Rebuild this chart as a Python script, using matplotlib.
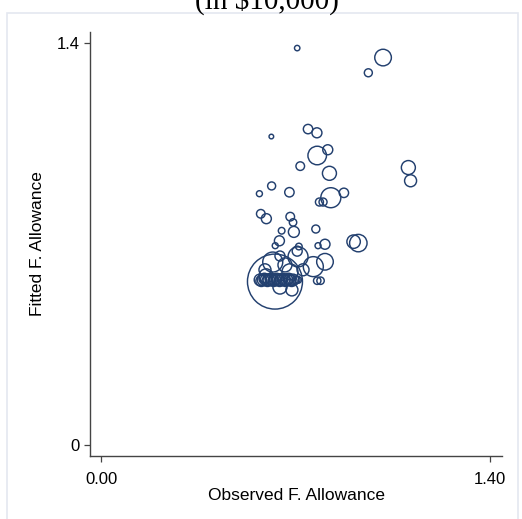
import matplotlib
matplotlib.use("Agg")
import matplotlib.pyplot as plt
import matplotlib.patches as mpatches
import numpy as np

# ---- data (observed, fitted, weight) ----
observed = [0.706, 1.015, 0.962, 0.745, 0.777, 0.613, 0.778, 0.816, 0.717, 0.822,
            1.106, 1.114, 0.614, 0.570, 0.678, 0.827, 0.874, 0.786, 0.799, 0.575,
            0.595, 0.681, 0.691, 0.650, 0.694, 0.773, 0.642, 0.627, 0.806, 0.781,
            0.712, 0.706, 0.909, 0.926, 0.644, 0.618, 0.709, 0.764, 0.806, 0.662,
            0.590, 0.727, 0.680, 0.626, 0.778, 0.790,
            0.572, 0.583, 0.594, 0.604, 0.615, 0.626, 0.637, 0.648, 0.659, 0.669,
            0.680, 0.691, 0.577, 0.588, 0.599, 0.610, 0.621, 0.632, 0.643, 0.653,
            0.664, 0.675, 0.686, 0.702, 0.709, 0.644, 0.594, 0.687]
fitted = [1.382, 1.349, 1.296, 1.100, 1.087, 1.074, 1.008, 1.028, 0.971, 0.946,
          0.966, 0.920, 0.902, 0.875, 0.880, 0.861, 0.878, 0.846, 0.846, 0.805,
          0.788, 0.795, 0.775, 0.746, 0.742, 0.752, 0.711, 0.694, 0.699, 0.694,
          0.691, 0.675, 0.708, 0.703, 0.658, 0.637, 0.655, 0.621, 0.638, 0.627,
          0.610, 0.610, 0.603, 0.569, 0.572, 0.572,
          0.575, 0.575, 0.575, 0.575, 0.575, 0.575, 0.575, 0.575, 0.575, 0.575,
          0.575, 0.575, 0.571, 0.579, 0.571, 0.579, 0.571, 0.579, 0.571, 0.579,
          0.571, 0.579, 0.571, 0.575, 0.575, 0.550, 0.589, 0.540]
weight = [7.3, 69, 16, 22, 25, 5.3, 86, 25, 18.5, 49,
          49, 36, 16, 9, 22, 100, 22, 16, 16, 18.5,
          25, 18.5, 13.7, 11, 30, 16, 25, 9, 25, 9,
          11, 25, 45, 76, 25, 100, 100, 100, 69, 49,
          36, 36, 64, 756, 13.7, 13.7,
          33, 33, 33, 33, 33, 33, 33, 33, 33, 33,
          33, 33, 30, 30, 30, 30, 30, 30, 30, 30,
          30, 30, 30, 16, 12, 49, 49, 36]

xticks = [0.0, 1.4]
xticklabels = ["0.00", "1.40"]
yticks = [0.0, 1.4]
yticklabels = ["0", "1.4"]

title = "(in $10,000)"
xlabel = "Observed F. Allowance"
ylabel = "Fitted F. Allowance"

W, H = 522, 519
fig = plt.figure(figsize=(W / 100, H / 100), dpi=100)
fig.patch.set_facecolor("white")

ax = fig.add_axes([90 / W, 1 - 456 / H, 412 / W, 424 / H])

sizes = [w * 2.0736 for w in weight]
ax.scatter(observed, fitted, s=sizes, facecolors="none",
           edgecolors="#23406f", linewidths=1.05, zorder=3)

ax.set_xlim(-0.0396, 1.443)
ax.set_ylim(-0.0383, 1.438)

for side in ["top", "right"]:
    ax.spines[side].set_visible(False)
for side in ["left", "bottom"]:
    ax.spines[side].set_color("#444444")
    ax.spines[side].set_linewidth(1.0)

sans = ["Liberation Sans", "DejaVu Sans"]
ax.set_xticks(xticks)
ax.set_xticklabels(xticklabels, fontsize=12, family=sans)
ax.set_yticks(yticks)
ax.set_yticklabels(yticklabels, fontsize=12, family=sans)
ax.tick_params(axis="both", direction="out", length=4.5, width=0.9,
               color="#444444")
ax.tick_params(axis="x", pad=7)
ax.tick_params(axis="y", pad=3)

ax.set_xlabel(xlabel, fontsize=12.5, family=sans, labelpad=1)
ax.set_ylabel(ylabel, fontsize=12.5, family=sans, labelpad=8)

fig.text(266.5 / W, 1 - 9 / H, title, ha="center", va="baseline",
         fontsize=21, family=["Liberation Serif", "DejaVu Serif"])

rect = mpatches.Rectangle((7 / W, -0.05), (517.5 - 7) / W, (1 - 13 / H) + 0.05,
                          transform=fig.transFigure, fill=False,
                          edgecolor="#e4e8f0", linewidth=1.2)
fig.patches.append(rect)

fig.savefig("out.png", dpi=100)
